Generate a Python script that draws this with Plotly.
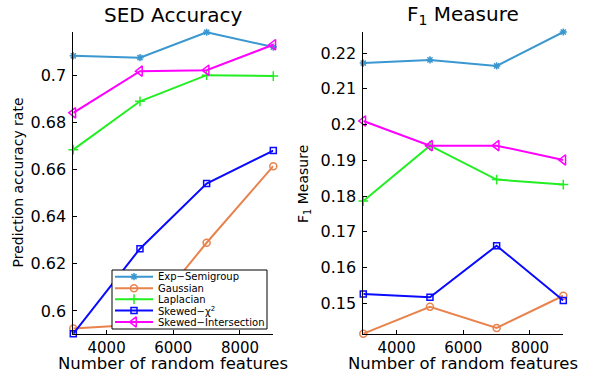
import plotly.graph_objects as go

features = [3000, 5000, 7000, 9000]
series_names = ["Exp−Semigroup", "Gaussian", "Laplacian", "Skewed−χ<sup>2</sup>", "Skewed−Intersection"]

acc_exp = [0.7082, 0.7074, 0.7182, 0.7119]
acc_gauss = [0.5925, 0.5942, 0.6289, 0.6614]
acc_lap = [0.6684, 0.6889, 0.7000, 0.6996]
acc_chi2 = [0.5903, 0.6264, 0.6540, 0.6680]
acc_inter = [0.6840, 0.7017, 0.7021, 0.7129]

f1_exp = [0.2172, 0.2181, 0.2164, 0.2259]
f1_gauss = [0.1415, 0.1490, 0.1431, 0.1521]
f1_lap = [0.1786, 0.1941, 0.1846, 0.1832]
f1_chi2 = [0.1526, 0.1517, 0.1661, 0.1508]
f1_inter = [0.2010, 0.1941, 0.1941, 0.1901]

acc_ticks = [0.6, 0.62, 0.64, 0.66, 0.68, 0.7]
acc_ticktext = ["0.6", "0.62", "0.64", "0.66", "0.68", "0.7"]
f1_ticks = [0.15, 0.16, 0.17, 0.18, 0.19, 0.2, 0.21, 0.22]
f1_ticktext = ["0.15", "0.16", "0.17", "0.18", "0.19", "0.2", "0.21", "0.22"]
x_ticks = [4000, 6000, 8000]

colors = ["#3a97d0", "#e8834e", "#22ee22", "#0a0aff", "#ff00ff"]
symbols = ["asterisk-open", "circle-open", "cross-thin-open", "square-open", "triangle-left-open"]
sizes = [6, 7, 7, 6, 9]

W, H = 590, 375
font = "DejaVu Sans, Verdana, sans-serif"

fig = go.Figure()
acc = [acc_exp, acc_gauss, acc_lap, acc_chi2, acc_inter]
f1 = [f1_exp, f1_gauss, f1_lap, f1_chi2, f1_inter]

def marker(i):
    return dict(symbol=symbols[i], size=sizes[i], color=colors[i],
                line=dict(color=colors[i], width=1.5))

for i in range(5):
    fig.add_trace(go.Scatter(
        x=features, y=acc[i], name=series_names[i], mode="lines+markers",
        line=dict(color=colors[i], width=2), marker=marker(i),
        xaxis="x", yaxis="y", showlegend=False, cliponaxis=False))
for i in range(5):
    fig.add_trace(go.Scatter(
        x=features, y=f1[i], name=series_names[i], mode="lines+markers",
        line=dict(color=colors[i], width=2), marker=marker(i),
        xaxis="x2", yaxis="y2", showlegend=False, cliponaxis=False))

# ---- hand-drawn legend on a pixel overlay axis (x3/y3) ----
lg_x0, lg_x1, lg_y0, lg_y1 = 112, 267, 270, 329
row_y = [276.7, 288.3, 299.2, 310.5, 322.0]
line_x0, line_x1, text_x = 115, 153, 156
fig.add_trace(go.Scatter(
    x=[lg_x0, lg_x1, lg_x1, lg_x0, lg_x0], y=[lg_y0, lg_y0, lg_y1, lg_y1, lg_y0],
    mode="lines", fill="toself", fillcolor="white", line=dict(color="black", width=1),
    xaxis="x3", yaxis="y3", showlegend=False, hoverinfo="skip"))
for i in range(5):
    fig.add_trace(go.Scatter(
        x=[line_x0, line_x1], y=[row_y[i], row_y[i]], mode="lines",
        line=dict(color=colors[i], width=2), xaxis="x3", yaxis="y3",
        showlegend=False, hoverinfo="skip"))
    fig.add_trace(go.Scatter(
        x=[(line_x0 + line_x1) / 2], y=[row_y[i]], mode="markers", marker=marker(i),
        xaxis="x3", yaxis="y3", showlegend=False, hoverinfo="skip"))

axis_common = dict(
    showgrid=False, zeroline=False, showline=True, linecolor="black", linewidth=1,
    ticks="inside", ticklen=4, tickcolor="black", automargin=False,
)
yfont = dict(family=font, size=16, color="black")
xfont = dict(family=font, size=15, color="black")

annotations = [
    dict(text="SED Accuracy", x=173.3, y=15),
    dict(text="F<sub>1</sub> Measure", x=463.3, y=15),
    dict(text="Number of random features", x=172.5, y=363, size=16.5),
    dict(text="Number of random features", x=462.5, y=363, size=16.5),
    dict(text="Prediction accuracy rate", x=17, y=182.5, size=14, angle=-90),
    dict(text="F<sub>1</sub> Measure", x=304, y=184, size=14, angle=-90),
]
ann_list = []
for a in annotations:
    ann_list.append(dict(
        text=a["text"], x=a["x"], y=a["y"], xref="x3", yref="y3", showarrow=False,
        xanchor="center", yanchor="middle", textangle=a.get("angle", 0),
        font=dict(family=font, size=a.get("size", 20), color="black")))
for i in range(5):
    ann_list.append(dict(
        text=series_names[i], x=text_x, y=row_y[i], xref="x3", yref="y3", showarrow=False,
        xanchor="left", yanchor="middle", font=dict(family=font, size=10, color="black")))

fig.update_layout(
    width=W, height=H,
    margin=dict(l=0, r=0, t=0, b=0, autoexpand=False),
    paper_bgcolor="white", plot_bgcolor="rgba(0,0,0,0)",
    font=dict(family=font, color="black"),
    showlegend=False,
    xaxis=dict(domain=[73.3 / W, 273.3 / W], range=[3000, 9000], tickvals=x_ticks,
               anchor="y", tickfont=xfont, **axis_common),
    yaxis=dict(domain=[1 - 334 / H, 1 - 32 / H], range=[0.5902, 0.7183],
               tickvals=acc_ticks, ticktext=acc_ticktext, anchor="x", ticklabelstandoff=3,
               tickfont=yfont, **axis_common),
    xaxis2=dict(domain=[363.3 / W, 563.3 / W], range=[3000, 9000], tickvals=x_ticks,
                anchor="y2", tickfont=xfont, **axis_common),
    yaxis2=dict(domain=[1 - 334 / H, 1 - 32 / H], range=[0.1414, 0.2259],
                tickvals=f1_ticks, ticktext=f1_ticktext, anchor="x2", ticklabelstandoff=3,
                tickfont=yfont, **axis_common),
    xaxis3=dict(domain=[0, 1], range=[0, W], visible=False, fixedrange=True, anchor="y3"),
    yaxis3=dict(domain=[0, 1], range=[H, 0], visible=False, fixedrange=True, anchor="x3"),
    annotations=ann_list,
)

fig.write_html("out.html", config={"displayModeBar": False},
               post_script="document.body.style.margin='0';document.body.style.overflow='hidden';")
